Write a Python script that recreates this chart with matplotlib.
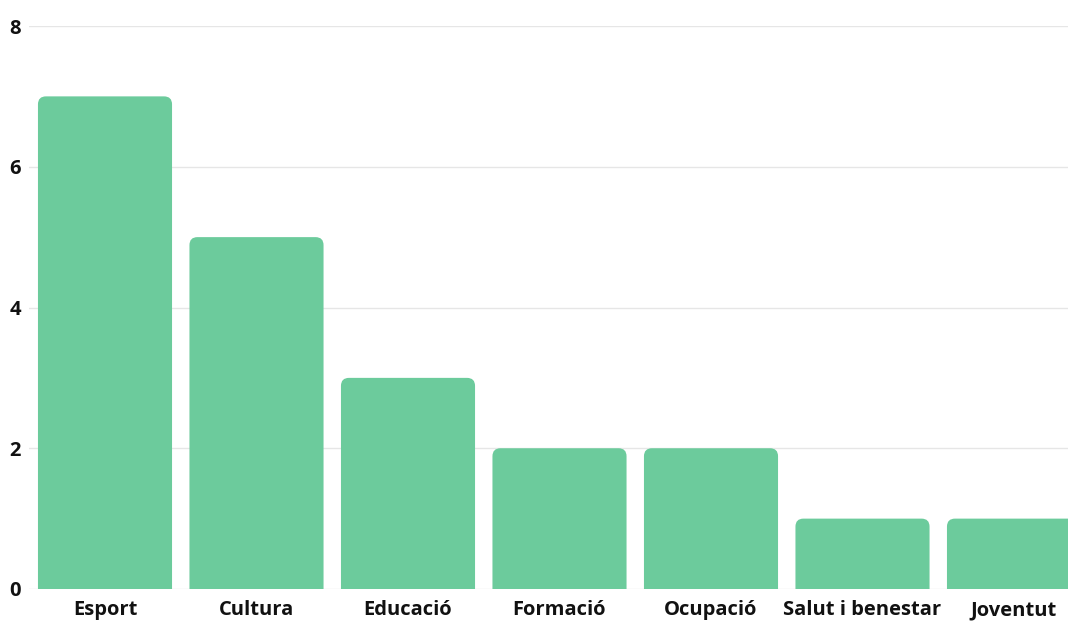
import numpy as np
import matplotlib
matplotlib.use("Agg")
from matplotlib import pyplot as plt
from matplotlib.patches import PathPatch
from matplotlib.path import Path

categories = ["Esport", "Cultura", "Educació", "Formació", "Ocupació", "Salut i benestar", "Joventut"]
values = [7, 5, 3, 2, 2, 1, 1]
yticks = [0, 2, 4, 6, 8]

bar_color = "#6ccb9c"
plt.rcParams['font.family'] = ['Open Sans', 'DejaVu Sans']

W, H = 1068, 624
fig = plt.figure(figsize=(W / 100, H / 100), dpi=100)
# axes runs past the right edge so the last bar is cut, as in the reference
ax = fig.add_axes([29.25 / W, 35 / H, 1060.5 / W, 563 / H])

x = np.arange(len(categories))
width = 0.885
ax.set_xlim(-0.5, len(categories) - 0.5)
ax.set_ylim(0, 8)

# bars with rounded top corners only
px_x = 1060.5 / len(categories)   # px per x unit
px_y = 563 / 8                    # px per y unit
rx = 8 / px_x
ry = 8 / px_y
for xi, v in zip(x, values):
    x0, x1 = xi - width / 2, xi + width / 2
    verts = [(x0, 0), (x0, v - ry), (x0, v), (x0 + rx, v),
             (x1 - rx, v), (x1, v), (x1, v - ry), (x1, 0), (x0, 0)]
    codes = [Path.MOVETO, Path.LINETO, Path.CURVE3, Path.CURVE3,
             Path.LINETO, Path.CURVE3, Path.CURVE3, Path.LINETO, Path.CLOSEPOLY]
    ax.add_patch(PathPatch(Path(verts, codes), facecolor=bar_color,
                           edgecolor="none", zorder=3))

ax.set_yticks(yticks)
ax.set_xticks(x)
ax.set_xticklabels(categories, fontsize=14.5, fontweight="bold", color="#111111")
ax.set_yticklabels([str(t) for t in yticks], fontsize=14.5, fontweight="bold", color="#111111")
ax.tick_params(length=0)
ax.tick_params(axis="y", pad=6)
ax.tick_params(axis="x", pad=8)
ax.grid(axis="y", color="#e6e6e6", linewidth=1, zorder=0)
ax.set_axisbelow(True)
for s in ax.spines.values():
    s.set_visible(False)

plt.savefig("out.png", dpi=100)
